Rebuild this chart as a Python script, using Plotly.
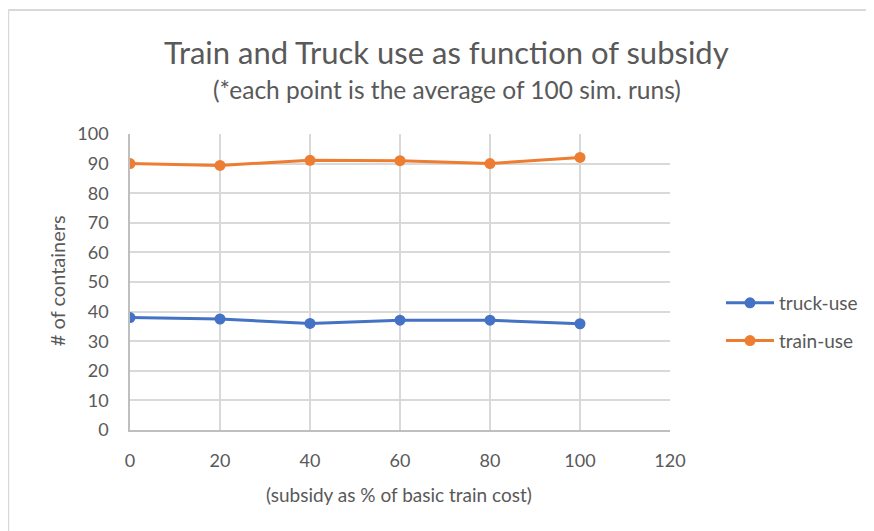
import plotly.graph_objects as go

subsidy = [0, 20, 40, 60, 80, 100]
truck_use = [38.0, 37.5, 36.0, 37.1, 37.1, 35.9]
train_use = [90.0, 89.4, 91.1, 91.0, 90.0, 92.1]

OFF = 8  # page body offset
W, H = 874 - OFF, 531 - OFF
# plot area in screen pixels (reference)
X0, X1, Y0, Y1 = 130, 671, 134, 430
L = X0 - OFF
T = Y0 - OFF
R = W - (X1 - OFF)
B = H - (Y1 - OFF)
pw, ph = X1 - X0, Y1 - Y0

def px(xs):
    return (xs - X0) / pw

def py(ys):
    return (Y1 - ys) / ph

FONT = "Lato, Open Sans, sans-serif"
TXT = "#595959"

fig = go.Figure()
fig.add_trace(go.Scatter(x=subsidy, y=truck_use, name="truck-use", mode="lines+markers",
                         legendgroup="a",
                         line=dict(color="#4472C4", width=3),
                         marker=dict(color="#4472C4", size=11)))
fig.add_trace(go.Scatter(x=subsidy, y=train_use, name="train-use", mode="lines+markers",
                         legendgroup="b",
                         line=dict(color="#ED7D31", width=3),
                         marker=dict(color="#ED7D31", size=11)))

fig.update_layout(
    width=W, height=H,
    margin=dict(l=L, r=R, t=T, b=B),
    paper_bgcolor="white", plot_bgcolor="white",
    font=dict(family=FONT, color=TXT, size=18),
    showlegend=True,
    legend=dict(x=px(721), y=py(322), xanchor="left", yanchor="middle",
                font=dict(size=19, color=TXT), tracegroupgap=10, itemwidth=48,
                traceorder="grouped", bgcolor="rgba(0,0,0,0)"),
    xaxis=dict(range=[0, 120], dtick=20, tick0=0, showgrid=True, gridcolor="#d9d9d9",
               gridwidth=1.5, zeroline=False, showline=True, linecolor="#bfbfbf",
               linewidth=1.5, mirror=False, ticks="", ticklabelstandoff=14,
               tickfont=dict(size=18, color=TXT)),
    yaxis=dict(range=[0, 100], dtick=10, tick0=0, showgrid=True, gridcolor="#d9d9d9",
               gridwidth=1.5, zeroline=False, showline=True, linecolor="#bfbfbf",
               linewidth=1.5, ticks="", ticklabelstandoff=16,
               tickfont=dict(size=18, color=TXT)),
    shapes=[
        dict(type="line", xref="paper", yref="paper",
             x0=px(8), x1=px(880), y0=py(10), y1=py(10),
             line=dict(color="#d9d9d9", width=2), layer="below"),
        dict(type="line", xref="paper", yref="paper",
             x0=px(8), x1=px(8), y0=py(10), y1=py(540),
             line=dict(color="#d9d9d9", width=2), layer="below"),
    ],
    annotations=[
        dict(text="Train and Truck use as function of subsidy", xref="paper", yref="paper",
             x=px(447), y=py(52), showarrow=False, font=dict(size=31, color=TXT),
             xanchor="center", yanchor="middle"),
        dict(text="(*each point is the average of 100 sim. runs)", xref="paper", yref="paper",
             x=px(448), y=py(90), showarrow=False, font=dict(size=24.5, color=TXT),
             xanchor="center", yanchor="middle"),
        dict(text="# of containers", xref="paper", yref="paper", textangle=-90,
             x=px(57), y=py(281), showarrow=False, font=dict(size=20, color=TXT),
             xanchor="center", yanchor="middle"),
        dict(text="(subsidy as % of basic train cost)", xref="paper", yref="paper",
             x=px(399), y=py(494), showarrow=False, font=dict(size=19, color=TXT),
             xanchor="center", yanchor="middle"),
    ],
)

fig.write_html("out.html")
